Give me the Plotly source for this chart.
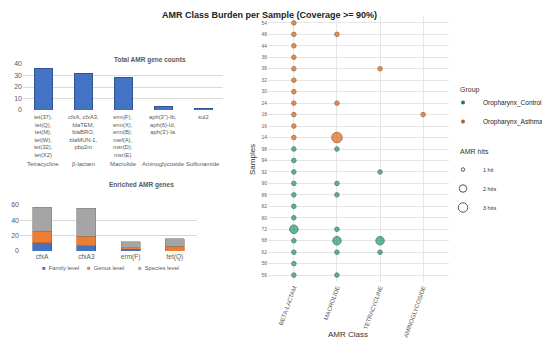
import plotly.graph_objects as go

W, H = 550, 347
FONT = "Liberation Sans"
OFF = 8  # default page body margin in the written html

# ---------------- data ----------------
# Top-left: total AMR gene counts
total_classes = ["Tetracycline", "β-lactam", "Macrolide", "Aminoglycoside", "Sulfonamide"]
total_counts = [36, 32, 28, 3, 1]
total_genes = [
    "tet(37),<br>tet(Q),<br>tet(M),<br>tet(W),<br>tet(32),<br>tet(X2)",
    "cfxA, cfxA3,<br>blaTEM,<br>blaBRO,<br>blaMUN-1,<br>pbp2m",
    "erm(F),<br>erm(X),<br>erm(B),<br>mef(A),<br>msr(D),<br>msr(E)",
    "aph(3'')-Ib,<br>aph(6)-Id,<br>aph(3')-Ia",
    "sul2",
]

# Bottom-left: enriched AMR genes
enriched_genes = ["cfxA", "cfxA3", "erm(F)", "tet(Q)"]
family_level = [11, 7, 2, 0]
genus_level = [15, 12, 2, 6]
species_level = [31, 37, 8, 10]
level_names = ["Family level", "Genus level", "Species level"]
level_colors = ["#4472C4", "#ED7D31", "#A5A5A5"]
level_lines = ["#2f5597", "#c55a11", "#7f7f7f"]

# Right: AMR class burden per sample
amr_classes = ["BETA-LACTAM", "MACROLIDE", "TETRACYCLINE", "AMINOGLYCOSIDE"]
samples_top_to_bottom = ["54", "48", "44", "38", "36", "32", "30", "24", "18", "16", "14",
                         "98", "94", "92", "90", "86", "82", "80", "72", "68", "62", "58", "56"]

asthma_sample = ["54", "48", "44", "38", "36", "32", "30", "24", "18", "16", "14",
                 "48", "24", "14", "36", "18"]
asthma_class = ["BETA-LACTAM"] * 11 + ["MACROLIDE", "MACROLIDE", "MACROLIDE",
                                       "TETRACYCLINE", "AMINOGLYCOSIDE"]
asthma_hits = [1] * 11 + [1, 1, 3, 1, 1]

control_sample = ["98", "94", "92", "90", "86", "82", "80", "72", "68", "62", "58", "56",
                  "98", "90", "86", "72", "68", "62", "56",
                  "92", "68", "62"]
control_class = ["BETA-LACTAM"] * 12 + ["MACROLIDE"] * 7 + ["TETRACYCLINE"] * 3
control_hits = [1, 1, 1, 1, 1, 1, 1, 2, 1, 1, 1, 1,
                1, 1, 1, 1, 2, 1, 1,
                1, 2, 1]

hit_levels = [1, 2, 3]
hit_labels = ["1 hit", "2 hits", "3 hits"]
hit_px = {1: 4.5, 2: 8.5, 3: 10.5}


# ---------------- helpers (screen px -> paper fraction) ----------------
def fx(p):
    return (p - OFF) / W


def fy(p):
    return 1 - (p - OFF) / H


fig = go.Figure()

# ---------------- right panel ----------------
fig.add_trace(go.Scatter(
    x=control_class, y=control_sample, mode="markers", xaxis="x", yaxis="y",
    marker=dict(size=[hit_px[h] for h in control_hits], color="#1f9a72",
                line=dict(color="#1d5a45", width=1)),
    showlegend=False, hoverinfo="skip"))
fig.add_trace(go.Scatter(
    x=asthma_class, y=asthma_sample, mode="markers", xaxis="x", yaxis="y",
    marker=dict(size=[hit_px[h] for h in asthma_hits], color="#e0660c",
                line=dict(color="#8a4418", width=1)),
    showlegend=False, hoverinfo="skip"))

# legend entries (Group)
fig.add_trace(go.Scatter(x=[None], y=[None], mode="markers", name="Oropharynx_Control",
                         marker=dict(size=4, color="#1f7a5a"), legend="legend",
                         xaxis="x", yaxis="y"))
fig.add_trace(go.Scatter(x=[None], y=[None], mode="markers", name="Oropharynx_Asthma",
                         marker=dict(size=4, color="#b5602a"), legend="legend",
                         xaxis="x", yaxis="y"))
# legend entries (AMR hits)
for h, lab in zip(hit_levels, hit_labels):
    fig.add_trace(go.Scatter(x=[None], y=[None], mode="markers", name=lab,
                             marker=dict(size=hit_px[h] - 1, color="white",
                                         line=dict(color="#555555", width=1)),
                             legend="legend2", xaxis="x", yaxis="y"))

# ---------------- top-left bars ----------------
fig.add_trace(go.Bar(x=total_classes, y=total_counts, xaxis="x2", yaxis="y2",
                     marker=dict(color="#4472C4", line=dict(color="#2f5597", width=1)),
                     width=0.45, showlegend=False, hoverinfo="skip"))

# ---------------- bottom-left stacked bars ----------------
for name, vals, col, lc in zip(level_names, [family_level, genus_level, species_level],
                               level_colors, level_lines):
    fig.add_trace(go.Bar(x=enriched_genes, y=vals, name=name, xaxis="x3", yaxis="y3",
                         marker=dict(color=col, line=dict(color=lc, width=0.6)),
                         width=0.43, showlegend=False, hoverinfo="skip"))

annotations = [
    dict(text="<b>AMR Class Burden per Sample (Coverage >= 90%)</b>", x=fx(379), y=fy(8),
         xref="paper", yref="paper", showarrow=False, font=dict(size=9, color="#222222")),
    dict(text="Samples", x=fx(252), y=fy(160), xref="paper", yref="paper", textangle=-90,
         showarrow=False, font=dict(size=8, color="#333333")),
    dict(text="AMR Class", x=fx(348), y=fy(341), xref="paper", yref="paper",
         showarrow=False, font=dict(size=8, color="#333333")),
    dict(text="Group", x=fx(458), y=fy(84), xref="paper", yref="paper", xanchor="left",
         showarrow=False, font=dict(size=7, color="#333333")),
    dict(text="AMR hits", x=fx(458), y=fy(151), xref="paper", yref="paper", xanchor="left",
         showarrow=False, font=dict(size=7, color="#333333")),
    dict(text="<b>Total AMR gene counts</b>", x=fx(112), y=fy(54), xref="paper", yref="paper",
         showarrow=False, font=dict(size=6.5, color="#595959")),
    dict(text="<b>Enriched AMR genes</b>", x=fx(107), y=fy(185), xref="paper", yref="paper",
         showarrow=False, font=dict(size=6.5, color="#595959")),
]
for c, g in zip(total_classes, total_genes):
    annotations.append(dict(text=g, x=c, xref="x2", y=fy(112), yref="paper", yanchor="top",
                            showarrow=False, align="center",
                            font=dict(size=5.8, color="#595959")))
    annotations.append(dict(text=c, x=c, xref="x2", y=fy(164), yref="paper",
                            showarrow=False, font=dict(size=6, color="#595959")))
# bottom-left legend as text keys
for name, col, px in zip(level_names, level_colors, [40, 85, 136]):
    annotations.append(dict(text=f"<span style='color:{col}'>■</span>  {name}",
                            x=fx(px), y=fy(273), xref="paper", yref="paper",
                            xanchor="left", showarrow=False,
                            font=dict(size=5.8, color="#595959")))

fig.update_layout(
    width=W, height=H, margin=dict(l=0, r=0, t=0, b=0, autoexpand=False),
    paper_bgcolor="white", plot_bgcolor="white",
    font=dict(family=FONT),
    barmode="stack",
    annotations=annotations,
    xaxis=dict(domain=[fx(268), fx(449)], anchor="y", type="category",
               categoryorder="array", categoryarray=amr_classes, range=[-0.6, 3.6],
               showgrid=True, gridcolor="#e6e6e6", gridwidth=1, zeroline=False,
               ticks="", tickangle=-70, tickfont=dict(size=6, color="#555555")),
    yaxis=dict(domain=[fy(282), fy(16)], anchor="x", type="category",
               categoryorder="array", categoryarray=samples_top_to_bottom[::-1],
               range=[-0.6, 22.6], showgrid=True, gridcolor="#e6e6e6", zeroline=False,
               ticks="", tickfont=dict(size=5, color="#666666")),
    xaxis2=dict(domain=[fx(23), fx(223)], anchor="y2", type="category",
                range=[-0.5, 4.5], showticklabels=False, showgrid=False, zeroline=False,
                showline=False, ticks=""),
    yaxis2=dict(domain=[fy(110), fy(64)], anchor="x2", range=[0, 40], dtick=10,
                showgrid=True, gridcolor="#d9d9d9", zeroline=False, ticks="",
                tickfont=dict(size=7, color="#595959")),
    xaxis3=dict(domain=[fx(20), fx(197)], anchor="y3", type="category",
                range=[-0.5, 3.5], showgrid=False, zeroline=False, ticks="",
                tickfont=dict(size=6.5, color="#595959")),
    yaxis3=dict(domain=[fy(251), fy(205)], anchor="x3", range=[0, 60], dtick=20,
                showgrid=True, gridcolor="#d9d9d9", zeroline=False, ticks="",
                tickfont=dict(size=7, color="#595959")),
    legend=dict(x=fx(443), y=fy(88), xanchor="left", yanchor="top", traceorder="normal",
                font=dict(size=6.5, color="#222222"), bgcolor="rgba(0,0,0,0)",
                itemsizing="trace", tracegroupgap=0),
    legend2=dict(x=fx(443), y=fy(155), xanchor="left", yanchor="top", traceorder="normal",
                 font=dict(size=5.5, color="#333333"), bgcolor="rgba(0,0,0,0)",
                 itemsizing="trace", tracegroupgap=0),
)

fig.write_html("out.html")
